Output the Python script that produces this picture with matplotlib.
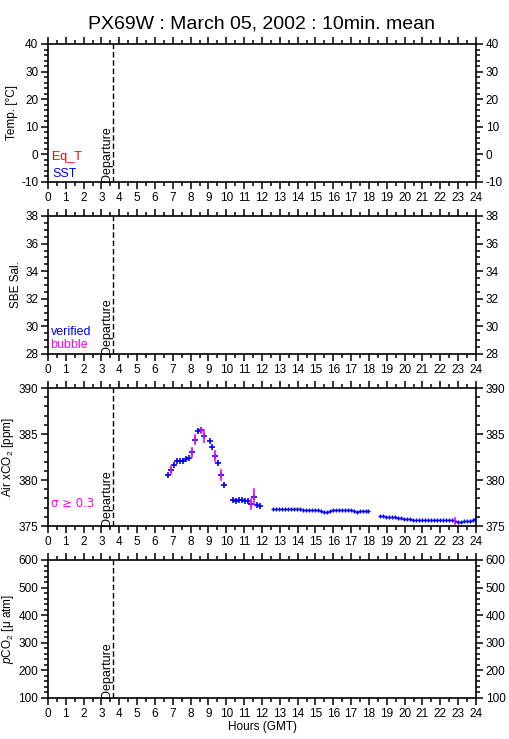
import matplotlib
matplotlib.use('Agg')
import matplotlib.pyplot as plt
from matplotlib.ticker import MultipleLocator

plt.rcParams.update({
    'font.family': ['Liberation Sans', 'DejaVu Sans'],
    'font.size': 8.5,
    'axes.linewidth': 1.2,
    'axes.unicode_minus': False,
    'xtick.labelsize': 8.5,
    'ytick.labelsize': 8.5,
    'mathtext.fontset': 'custom',
    'mathtext.rm': 'Liberation Sans',
    'mathtext.it': 'Liberation Sans:italic',
})

# Air xCO2, 10 min means (hours GMT, ppm, std dev)
hours_a = [6.72, 6.89, 7.06, 7.22, 7.39, 7.56, 7.72, 7.89, 8.06, 8.22, 8.39, 8.56, 8.72,
           9.06, 9.22, 9.39, 9.56, 9.72, 9.89]
xco2_a = [380.5, 381.1, 381.6, 382.05, 382.05, 382.05, 382.25, 382.4, 383.0, 384.4, 385.3,
          385.4, 384.8, 384.2, 383.55, 382.6, 381.85, 380.5, 379.5]
sigma_a = [0.1, 0.45, 0.1, 0.1, 0.1, 0.1, 0.2, 0.1, 0.5, 0.45, 0.1, 0.3, 0.65,
           0.1, 0.1, 0.55, 0.1, 0.55, 0.1]

hours_b = [10.39, 10.56, 10.72, 10.89, 11.06, 11.22, 11.39, 11.56, 11.72, 11.89]
xco2_b = [377.8, 377.75, 377.85, 377.8, 377.7, 377.75, 377.4, 378.2, 377.25, 377.2]
sigma_b = [0.15, 0.1, 0.1, 0.1, 0.1, 0.25, 0.5, 0.8, 0.15, 0.1]

hours_c = [12.64, 12.81, 12.97, 13.14, 13.31, 13.47, 13.64, 13.81, 13.97, 14.14, 14.31,
           14.47, 14.64, 14.81, 14.97, 15.14, 15.31, 15.47, 15.64, 15.81, 15.97, 16.14,
           16.31, 16.47, 16.64, 16.81, 16.97, 17.14, 17.31, 17.47, 17.64, 17.81, 17.97]
xco2_c = [376.85, 376.85, 376.8, 376.8, 376.9, 376.9, 376.9, 376.9, 376.85, 376.85, 376.75,
          376.7, 376.7, 376.7, 376.7, 376.7, 376.6, 376.55, 376.55, 376.65, 376.7, 376.75,
          376.7, 376.7, 376.7, 376.7, 376.7, 376.6, 376.55, 376.6, 376.6, 376.65, 376.65]

hours_d = [18.64, 18.81, 18.97, 19.14, 19.31, 19.47, 19.64, 19.81, 19.97, 20.14, 20.31,
           20.47, 20.64, 20.81, 20.97, 21.14, 21.31, 21.47, 21.64, 21.81, 21.97, 22.14,
           22.31, 22.47, 22.64, 22.81, 22.97, 23.14, 23.31, 23.47, 23.64, 23.81, 23.97]
xco2_d = [376.05, 376.05, 376.0, 375.95, 375.95, 375.95, 375.85, 375.85, 375.8, 375.8, 375.75,
          375.7, 375.7, 375.7, 375.7, 375.65, 375.6, 375.6, 375.6, 375.6, 375.6, 375.6,
          375.6, 375.6, 375.6, 375.55, 375.4, 375.4, 375.5, 375.55, 375.55, 375.7, 375.75]
big_sigma_hour = [22.81]
big_sigma_val = [375.55]
big_sigma = [0.36]

departure = 3.65

panels = [
    # ylabel, ylim, major, minor
    ('Temp. [°C]', (-10, 40), 10, 2),
    ('SBE Sal.', (28, 38), 2, 0.5),
    ('Air xCO$_2$ [ppm]', (375, 390), 5, 1),
    ('$\\it{p}$CO$_2$ [μ atm]', (100, 600), 100, 20),
]
tops = [44, 216, 388, 560]

fig = plt.figure(figsize=(5.09, 7.39), dpi=100)
W, H = 509, 739
axes = []
for (ylab, ylim, maj, mnr), top in zip(panels, tops):
    ax = fig.add_axes([48 / W, 1 - (top + 138) / H, 428 / W, 138 / H])
    ax.set_xlim(0, 24)
    ax.set_ylim(*ylim)
    ax.xaxis.set_major_locator(MultipleLocator(1))
    ax.xaxis.set_minor_locator(MultipleLocator(0.5))
    ax.yaxis.set_major_locator(MultipleLocator(maj))
    ax.yaxis.set_minor_locator(MultipleLocator(mnr))
    ax.tick_params(which='both', direction='out', top=True, right=True,
                   labelright=True, width=1.1)
    ax.tick_params(which='major', length=5, pad=2)
    ax.tick_params(which='minor', length=3)
    ax.set_ylabel(ylab, fontsize=8.5, labelpad=2)
    ax.axvline(departure, color='black', lw=1, dashes=(4, 2))
    ax.text(departure - 0.02, ylim[0], 'Departure', rotation=90, ha='right', va='bottom',
            fontsize=9)
    axes.append(ax)

axes[0].set_title('PX69W : March 05, 2002 : 10min. mean', fontsize=14, pad=11)
axes[-1].set_xlabel('Hours (GMT)', fontsize=8.5, labelpad=1)

axes[0].text(0.01, 0.18, 'Eq_T', color='#ff0000', transform=axes[0].transAxes, va='center',
             fontsize=9)
axes[0].text(0.01, 0.058, 'SST', color='#0000ff', transform=axes[0].transAxes, va='center',
             fontsize=9)
axes[1].text(0.006, 0.16, 'verified', color='#0000ff', transform=axes[1].transAxes,
             va='center', fontsize=9)
axes[1].text(0.006, 0.065, 'bubble', color='#ff00ff', transform=axes[1].transAxes,
             va='center', fontsize=9)
axes[2].text(0.006, 0.16, 'σ ≥ 0.3', color='#ff00ff', transform=axes[2].transAxes,
             va='center', fontsize=8.5, family=['DejaVu Sans'])

ax = axes[2]
for hh, vv, ss in [(hours_a, xco2_a, sigma_a), (hours_b, xco2_b, sigma_b)]:
    ax.plot(hh, vv, ls='none', marker='+', ms=4.5, mew=1.2, color='#0000ff', zorder=3)
    for h, v, s in zip(hh, vv, ss):
        if s >= 0.3:
            ax.plot([h, h], [v - s, v + s], color='#ff00ff', lw=1.2, zorder=4)
for hh, vv in [(hours_c, xco2_c), (hours_d, xco2_d)]:
    ax.plot(hh, vv, ls='none', marker='+', ms=3.5, mew=1.0, color='#0000ff', zorder=3)
for h, v, s in zip(big_sigma_hour, big_sigma_val, big_sigma):
    ax.plot([h, h], [v - s, v + s], color='#ff00ff', lw=1.2, zorder=4)

fig.savefig('out.png', dpi=100)
